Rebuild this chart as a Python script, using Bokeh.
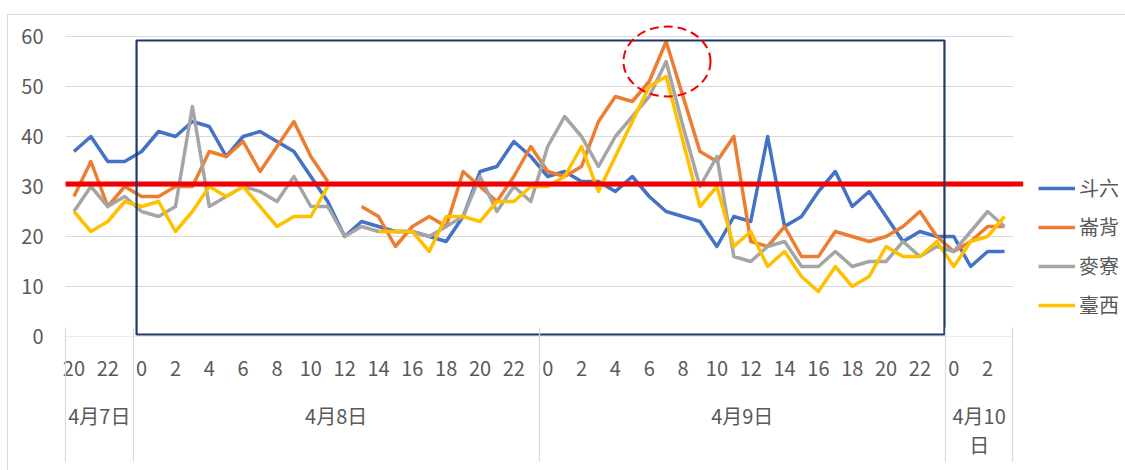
from bokeh.plotting import figure
from bokeh.models import Range1d, LinearAxis, FixedTicker, Legend, LegendItem
from bokeh.embed import file_html
from bokeh.resources import INLINE

nan = float("nan")

# ---------------- data ----------------
start_hour = 20
n_points = 56
hours = [(start_hour + i) % 24 for i in range(n_points)]
date_labels = ["4月7日", "4月8日", "4月9日", "4月10日"]
date_counts = [4, 24, 24, 4]

series_names = ["斗六", "崙背", "麥寮", "臺西"]

douliu = [37, 40, 35, 35,
          37, 41, 40, 43, 42, 36, 40, 41, 39, 37, 32, 27,
          20, 23, 22, 21, 21, 20, 19, 24, 33, 34, 39, 36,
          32, 33, 31, 31, 29, 32, 28, 25, 24, 23, 18, 24,
          23, 40, 22, 24, 29, 33, 26, 29, 24, 19, 21, 20,
          20, 14, 17, 17]
lunbei = [28, 35, 26, 30,
          28, 28, 30, 30, 37, 36, 39, 33, 38, 43, 36, 31,
          nan, 26, 24, 18, 22, 24, 22, 33, 30, 27, 32, 38,
          33, 32, 34, 43, 48, 47, 51, 59, 48, 37, 35, 40,
          19, 18, 22, 16, 16, 21, 20, 19, 20, 22, 25, 20,
          17, 19, 22, 22]
mailiao = [25, 30, 26, 28,
           25, 24, 26, 46, 26, 28, 30, 29, 27, 32, 26, 26,
           20, 22, 21, 21, 21, 20, 22, 24, 32, 25, 30, 27,
           38, 44, 40, 34, 40, 44, 48, 55, 42, 30, 36, 16,
           15, 18, 19, 14, 14, 17, 14, 15, 15, 19, 16, 18,
           17, 21, 25, 22]
taixi = [25, 21, 23, 27,
         26, 27, 21, 25, 30, 28, 30, 26, 22, 24, 24, 30,
         nan, nan, 21, 21, 21, 17, 24, 24, 23, 27, 27, 30,
         30, 32, 38, 29, 36, 43, 50, 52, 39, 26, 30, 18,
         21, 14, 17, 12, 9, 14, 10, 12, 18, 16, 16, 19,
         14, 19, 20, 24]

threshold = 30.5
y_ticks = [0, 10, 20, 30, 40, 50, 60]

# ---------------- styles / layout ----------------
colors = ["#4472C4", "#ED7D31", "#A5A5A5", "#FFC000"]
FONT = "Noto Sans CJK TC"
TEXT_COLOR = "#595959"
GRID_COLOR = "#D9D9D9"
FS = "20px"

x = list(range(n_points))
x_left, x_right = -0.5, n_points - 0.5

p = figure(width=1125, height=470, output_backend="svg", toolbar_location=None,
           x_range=Range1d(-0.5, 62.15), y_range=Range1d(0, 63.2),
           min_border_left=65, min_border_right=0, min_border_top=20,
           min_border_bottom=134, x_axis_type=None, y_axis_type=None)
p.outline_line_color = None
p.background_fill_color = "white"
p.border_fill_color = None
p.styles = {
    "background-color": "white",
    "background-image": "linear-gradient(#D9D9D9, #D9D9D9), linear-gradient(#D9D9D9, #D9D9D9)",
    "background-size": "100% 1px, 1px 100%",
    "background-position": "7px 14px, 7px 14px",
    "background-repeat": "no-repeat",
}

# horizontal gridlines across the category span
p.segment(x0=[x_left] * len(y_ticks), x1=[x_right] * len(y_ticks), y0=y_ticks, y1=y_ticks,
          line_color=GRID_COLOR, line_width=1.2)

# y axis
yaxis = LinearAxis(ticker=FixedTicker(ticks=y_ticks))
yaxis.axis_line_color = None
yaxis.major_tick_line_color = None
yaxis.minor_tick_line_color = None
yaxis.major_tick_out = 0
yaxis.major_label_standoff = 22
yaxis.major_label_text_font = FONT
yaxis.major_label_text_font_size = FS
yaxis.major_label_text_color = TEXT_COLOR
p.add_layout(yaxis, "left")

# group boundaries / centres
starts = []
acc = 0
for c in date_counts:
    starts.append(acc)
    acc += c
separators = [s - 0.5 for s in starts] + [acc - 0.5]
centers = [s + c / 2 - 0.5 for s, c in zip(starts, date_counts)]


def style_axis(ax, standoff):
    ax.axis_line_color = None
    ax.major_tick_line_color = None
    ax.minor_tick_line_color = None
    ax.major_tick_out = 0
    ax.major_tick_in = 0
    ax.minor_tick_out = 0
    ax.minor_tick_in = 0
    ax.major_label_standoff = standoff
    ax.major_label_text_font = FONT
    ax.major_label_text_font_size = FS
    ax.major_label_text_color = TEXT_COLOR
    return ax


# hour axis
hour_ticks = [i for i in x if hours[i] % 2 == 0]
hour_axis = style_axis(LinearAxis(ticker=FixedTicker(ticks=hour_ticks)), 24)
hour_axis.major_label_overrides = {i: str(hours[i]) for i in hour_ticks}
p.add_layout(hour_axis, "below")

# date axis (first line) and wrapped second line with group separators
line1 = [d if len(d) <= 4 else d[:-1] for d in date_labels]
line2 = ["" if len(d) <= 4 else d[-1] for d in date_labels]

date_axis = style_axis(LinearAxis(ticker=FixedTicker(ticks=centers)), 22)
date_axis.major_label_overrides = {c: t for c, t in zip(centers, line1)}
p.add_layout(date_axis, "below")

wrap_ticks = [c for c, t in zip(centers, line2) if t]
sep_axis = style_axis(LinearAxis(ticker=FixedTicker(ticks=wrap_ticks, minor_ticks=separators)), -32)
sep_axis.major_label_overrides = {c: t for c, t in zip(centers, line2) if t}
sep_axis.minor_tick_line_color = GRID_COLOR
sep_axis.minor_tick_line_width = 1.2
sep_axis.minor_tick_in = 105
sep_axis.minor_tick_out = 29
p.add_layout(sep_axis, "below")

# series
renderers = []
for name, ys, col in zip(series_names, [douliu, lunbei, mailiao, taixi], colors):
    r = p.line(x, ys, line_color=col, line_width=3.5, line_join="round")
    renderers.append(r)

# threshold line
p.segment(x0=[-0.64], x1=[56.1], y0=[threshold], y1=[threshold], line_color="#F00000", line_width=5)

# highlight box and dashed ellipse (annotations)
p.quad(left=[3.7], right=[51.45], bottom=[0.4], top=[59.2], fill_color=None,
       line_color="#1F3864", line_width=2.2)
p.ellipse(x=[35.05], y=[55.0], width=[5.15], height=[14.0], fill_color=None,
          line_color="#F00000", line_width=2, line_dash="9 5")

legend = Legend(items=[LegendItem(label=n, renderers=[r]) for n, r in zip(series_names, renderers)],
                location=(973, 17))
legend.border_line_color = None
legend.background_fill_alpha = 0
legend.padding = 0
legend.margin = 0
legend.glyph_width = 37
legend.glyph_height = 20
legend.label_height = 20
legend.spacing = 10
legend.label_standoff = 4
legend.label_text_font = FONT
legend.label_text_font_size = FS
legend.label_text_color = TEXT_COLOR
p.add_layout(legend)

open("out.html", "w").write(file_html(p, INLINE))
